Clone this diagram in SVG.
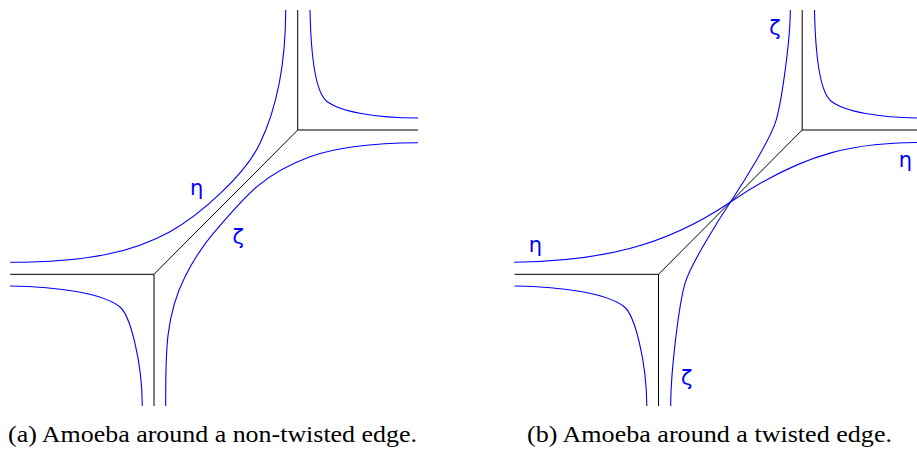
<svg xmlns="http://www.w3.org/2000/svg" width="917" height="449" viewBox="0 0 917 449">
<style>
.trop{fill:none;stroke:#000;stroke-width:1}
.amo{fill:none;stroke:#0000ff;stroke-width:1.1}
.lbl{font-family:"DejaVu Sans",sans-serif;font-size:21px;fill:#0000ff;text-anchor:middle}
.cap{font-family:"Liberation Serif",serif;font-size:23.5px;fill:#000}
</style>
<rect width="917" height="449" fill="#fff"/>
<g id="fig-a">
  <g id="tropical-a">
    <path class="trop" d="M297.7,10 V130 H418"/>
    <path class="trop" d="M297.7,130 L154,274.3"/>
    <path class="trop" d="M10,274.3 H154 V406"/>
  </g>
  <g id="amoeba-a">
    <path class="amo" d="M310,10 C311,60 316,93 327,101.5 C340,111.5 375,118 418,118"/>
    <path class="amo" d="M10,286 C60,286.5 104,294 120,307 C130,315.3 142,360 142.3,406"/>
    <path class="amo" d="M285.7,10 C285.7,75 272,118.1 260,143.3 C245,174.8 200.6,214.8 170,231.7 C135,251.1 90,262.3 10,262.3"/>
    <path class="amo" d="M418,142.7 C380,143 338.2,146.35 310,156.7 C263,173.95 245.8,195.3 213.3,233.3 C203.55,244.7 191.75,263.35 185,276.7 C164.75,316.75 165.7,356 165.7,406"/>
  </g>
  <text class="lbl" x="196.7" y="195">η</text>
  <text class="lbl" x="238.3" y="244">ζ</text>
</g>
<g id="fig-b">
  <g id="tropical-b">
    <path class="trop" d="M802.2,10 V130 H917"/>
    <path class="trop" d="M802.2,130 L658.5,274.3"/>
    <path class="trop" d="M514.5,274.3 H658.5 V406"/>
  </g>
  <g id="amoeba-b">
    <path class="amo" d="M814.5,10 C815.5,60 820.5,93 831.5,101.5 C844.5,111.5 879.5,118 922.5,118"/>
    <path class="amo" d="M514.5,286 C564.5,286.5 608.5,294 624.5,307 C634.5,315.3 646.5,360 646.8,406"/>
    <path class="amo" d="M514.3,262.3 C600,261 664.3,247 730.5,202 C809,148.6 860,143.5 917,142.5"/>
    <path class="amo" d="M670.7,406 C670.7,370 679.3,302.5 685,283.3 C690.7,264.1 719.4,218.6 730.5,202 C741.6,185.4 770.3,139.9 776,120.7 C781.7,101.5 790.3,40 790.3,10"/>
  </g>
  <text class="lbl" x="775" y="35">ζ</text>
  <text class="lbl" x="905.5" y="166.5">η</text>
  <text class="lbl" x="535.5" y="251.5">η</text>
  <text class="lbl" x="686.7" y="385">ζ</text>
</g>
<text class="cap" x="8" y="442" textLength="409" lengthAdjust="spacingAndGlyphs">(a) Amoeba around a non-twisted edge.</text>
<text class="cap" x="527" y="442" textLength="365" lengthAdjust="spacingAndGlyphs">(b) Amoeba around a twisted edge.</text>
</svg>
